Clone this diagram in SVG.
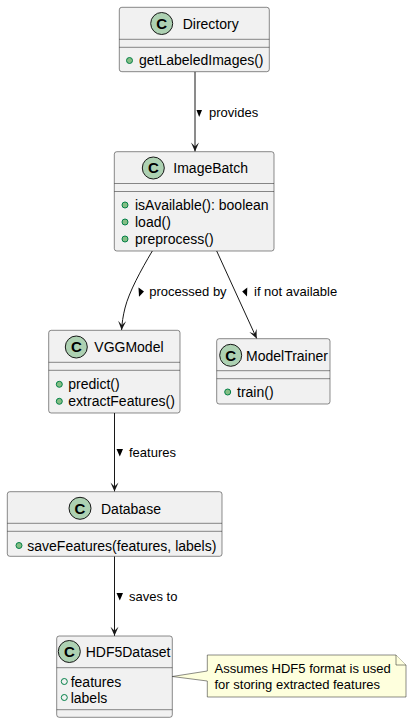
<svg xmlns="http://www.w3.org/2000/svg" width="411" height="724" viewBox="0 0 411 724">
<style>
.box{fill:#F1F1F1;stroke:#181818;stroke-width:0.5}
.sep{stroke:#181818;stroke-width:0.5}
.spot{fill:#ADD1B2;stroke:#181818;stroke-width:1}
.spotC{font-family:"Liberation Sans",Arial,sans-serif;font-size:15px;font-weight:bold;fill:#000;text-anchor:middle}
.name{font-family:"Liberation Sans",Arial,sans-serif;font-size:14px;fill:#000}
.mem{font-family:"Liberation Sans",Arial,sans-serif;font-size:14px;fill:#000}
.meth{fill:#84BE84;stroke:#038048;stroke-width:1}
.fld{fill:none;stroke:#038048;stroke-width:1}
.edge{fill:none;stroke:#181818;stroke-width:1}
.lbl{font-family:"Liberation Sans",Arial,sans-serif;font-size:13px;fill:#000}
.tri{fill:#000}
.note{fill:#FEFFDD;stroke:#181818;stroke-width:0.5}
.ntxt{font-family:"Liberation Sans",Arial,sans-serif;font-size:13px;fill:#000}
</style>
<defs>
<marker id="arr" viewBox="-10 -5 11 10" refX="0" refY="0" markerWidth="11" markerHeight="10" markerUnits="userSpaceOnUse" orient="auto">
<path d="M0,0 L-9,-4 L-5,0 L-9,4 Z" fill="#181818"/>
</marker>
</defs>

<g id="connectors">
<line class="edge" x1="195" y1="71.7" x2="195" y2="151.5" marker-end="url(#arr)"/>
<polygon class="tri" points="196.5,110 202,110 199.2,117"/>
<text class="lbl" x="209" y="117">provides</text>

<path class="edge" d="M152.3,251 C141,270 129,292 125,308 C123,316 122,323 121.6,330" marker-end="url(#arr)"/>
<polygon class="tri" points="138.5,287.5 144,291.5 139,296.7"/>
<text class="lbl" x="149.3" y="296">processed by</text>

<line class="edge" x1="216.7" y1="251" x2="256.7" y2="338.5" marker-end="url(#arr)"/>
<polygon class="tri" points="247.3,287.5 242.2,291.5 247,296.5"/>
<text class="lbl" x="254" y="296">if not available</text>

<line class="edge" x1="114.5" y1="413" x2="114.5" y2="491.5" marker-end="url(#arr)"/>
<polygon class="tri" points="116.5,449 123,449 119.8,456.5"/>
<text class="lbl" x="129" y="457">features</text>

<line class="edge" x1="114.5" y1="556.3" x2="114.5" y2="635.8" marker-end="url(#arr)"/>
<polygon class="tri" points="116.5,593 123,593 119.8,600.5"/>
<text class="lbl" x="129" y="601">saves to</text>
</g>

<g id="Directory">
<rect class="box" x="119.3" y="7.3" width="150" height="64.4" rx="2.5"/>
<circle class="spot" cx="161.7" cy="23.5" r="11"/>
<text class="spotC" x="161.7" y="28.8">C</text>
<text class="name" x="182.7" y="28.8">Directory</text>
<line class="sep" x1="119.3" y1="39.3" x2="269.3" y2="39.3"/>
<line class="sep" x1="119.3" y1="47.3" x2="269.3" y2="47.3"/>
<circle class="meth" cx="129.5" cy="60.5" r="3"/>
<text class="mem" x="139" y="65.3">getLabeledImages()</text>
</g>

<g id="ImageBatch">
<rect class="box" x="114.3" y="151.7" width="159.7" height="99.3" rx="2.5"/>
<circle class="spot" cx="153.3" cy="168" r="11"/>
<text class="spotC" x="153.3" y="173.3">C</text>
<text class="name" x="173.3" y="173.3">ImageBatch</text>
<line class="sep" x1="114.3" y1="183.5" x2="274" y2="183.5"/>
<line class="sep" x1="114.3" y1="191.5" x2="274" y2="191.5"/>
<circle class="meth" cx="125" cy="205" r="3"/>
<text class="mem" x="135" y="210">isAvailable(): boolean</text>
<circle class="meth" cx="125" cy="222" r="3"/>
<text class="mem" x="135" y="227">load()</text>
<circle class="meth" cx="125" cy="239" r="3"/>
<text class="mem" x="135" y="244">preprocess()</text>
</g>

<g id="VGGModel">
<rect class="box" x="48.7" y="330.3" width="131.3" height="82.7" rx="2.5"/>
<circle class="spot" cx="76.3" cy="347" r="11"/>
<text class="spotC" x="76.3" y="352.3">C</text>
<text class="name" x="94.3" y="352.3">VGGModel</text>
<line class="sep" x1="48.7" y1="362.3" x2="180" y2="362.3"/>
<line class="sep" x1="48.7" y1="370.3" x2="180" y2="370.3"/>
<circle class="meth" cx="59.3" cy="384.3" r="3"/>
<text class="mem" x="68.3" y="389.3">predict()</text>
<circle class="meth" cx="59.3" cy="401.3" r="3"/>
<text class="mem" x="68.3" y="406.3">extractFeatures()</text>
</g>

<g id="ModelTrainer">
<rect class="box" x="216.7" y="338.7" width="113.3" height="65.3" rx="2.5"/>
<circle class="spot" cx="230.7" cy="355.3" r="11"/>
<text class="spotC" x="230.7" y="360.6">C</text>
<text class="name" x="246" y="360.6">ModelTrainer</text>
<line class="sep" x1="216.7" y1="370.7" x2="330" y2="370.7"/>
<line class="sep" x1="216.7" y1="378.7" x2="330" y2="378.7"/>
<circle class="meth" cx="227.7" cy="392" r="3"/>
<text class="mem" x="237" y="397">train()</text>
</g>

<g id="Database">
<rect class="box" x="7.3" y="491.7" width="214.7" height="64.6" rx="2.5"/>
<circle class="spot" cx="80" cy="508.3" r="11"/>
<text class="spotC" x="80" y="513.6">C</text>
<text class="name" x="101" y="513.6">Database</text>
<line class="sep" x1="7.3" y1="523.3" x2="222" y2="523.3"/>
<line class="sep" x1="7.3" y1="531.3" x2="222" y2="531.3"/>
<circle class="meth" cx="19" cy="545.5" r="3"/>
<text class="mem" x="27.3" y="550.5">saveFeatures(features, labels)</text>
</g>

<g id="HDF5Dataset">
<rect class="box" x="56.7" y="636" width="115.6" height="81.3" rx="2.5"/>
<circle class="spot" cx="69.3" cy="651.5" r="11"/>
<text class="spotC" x="69.3" y="656.8">C</text>
<text class="name" x="85.7" y="656.8">HDF5Dataset</text>
<line class="sep" x1="56.7" y1="667.7" x2="172.3" y2="667.7"/>
<circle class="fld" cx="64.3" cy="681.5" r="3"/>
<text class="mem" x="70.7" y="686.5">features</text>
<circle class="fld" cx="64.3" cy="697.5" r="3"/>
<text class="mem" x="70.7" y="702.5">labels</text>
<line class="sep" x1="56.7" y1="709.7" x2="172.3" y2="709.7"/>
</g>

<g id="note">
<path class="note" d="M207.3,655 L396,655 L406,665 L406,697 L207.3,697 L207.3,681 L172.3,676.5 L207.3,671 Z"/>
<path class="note" d="M396,655 L396,665 L406,665"/>
<text class="ntxt" x="214.5" y="673">Assumes HDF5 format is used</text>
<text class="ntxt" x="214.5" y="689">for storing extracted features</text>
</g>
</svg>
